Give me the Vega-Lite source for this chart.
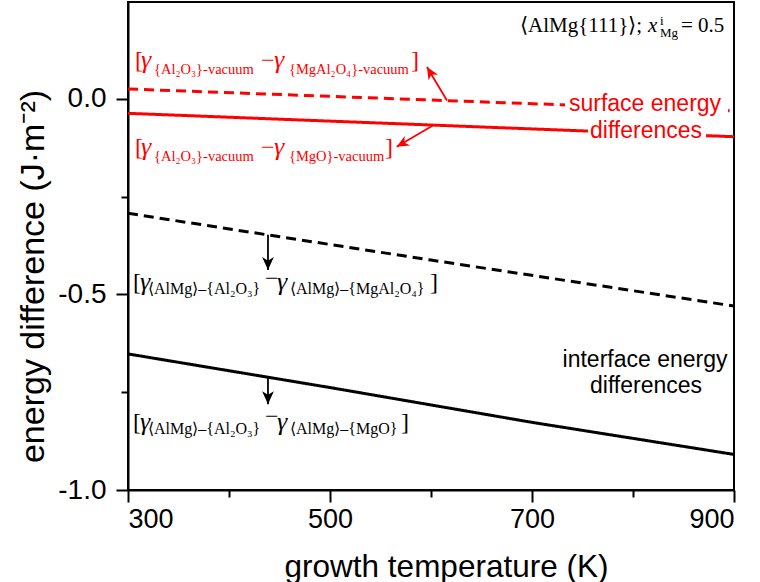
{
  "$schema": "https://vega.github.io/schema/vega-lite/v6.json",
  "width": 606,
  "height": 488,
  "autosize": {"type": "none"},
  "padding": {"left": 128, "top": 2, "right": 26, "bottom": 92},
  "background": "white",
  "config": {"view": {"stroke": "black", "strokeWidth": 2}},
  "encoding": {
    "x": {"field": "T", "type": "quantitative", "title": "growth temperature (K)",
      "scale": {"domain": [300, 900], "nice": false, "zero": false},
      "axis": {"values": [300, 400, 500, 600, 700, 800, 900], "labelExpr": "datum.value % 200 === 100 ? datum.label : ''",
        "grid": false, "domainColor": "black", "domainWidth": 2, "tickColor": "black", "tickWidth": 2,
        "tickSize": {"condition": {"test": "datum.value % 200 === 100", "value": 12}, "value": 7},
        "labelFont": "Liberation Sans", "labelFontSize": 27, "labelColor": "black", "labelPadding": 4,
        "titleFont": "Liberation Sans", "titleFontSize": 31.5, "titleFontWeight": "normal", "titleColor": "black",
        "titleX": 318, "titleY": 86, "titleAlign": "center", "titleBaseline": "alphabetic", "titleAnchor": null}},
    "y": {"field": "v", "type": "quantitative", "title": "energy difference (J·m⁻²)",
      "scale": {"domain": [-1, 0.248], "nice": false, "zero": false},
      "axis": {"values": [-1, -0.75, -0.5, -0.25, 0], "labelExpr": "datum.value * 2 === round(datum.value * 2) ? replace(format(datum.value, '.1f'), '−', '-') : ''",
        "grid": false, "domainColor": "black", "domainWidth": 2, "tickColor": "black", "tickWidth": 2,
        "tickSize": {"condition": {"test": "datum.value * 2 === round(datum.value * 2)", "value": 12}, "value": 7},
        "labelFont": "Liberation Sans", "labelFontSize": 28, "labelColor": "black", "labelPadding": 10,
        "titleFont": "Liberation Sans", "titleFontSize": 34, "titleFontWeight": "normal", "titleColor": "black",
        "titleX": -85, "titleY": 274, "titleAlign": "center", "titleBaseline": "alphabetic", "titleAngle": -90, "titleAnchor": null}},
    "color": {"field": "grp", "type": "nominal", "scale": {"domain": ["surface", "interface"], "range": ["#ff0000", "#000000"]}, "legend": null}
  },
  "layer": [
    {
      "data": {"values": [
        {"series": "surf_spinel", "grp": "surface", "dash": "dashed", "T": 300, "v": 0.0255},
        {"series": "surf_spinel", "grp": "surface", "dash": "dashed", "T": 600, "v": -0.0027},
        {"series": "surf_spinel", "grp": "surface", "dash": "dashed", "T": 900, "v": -0.0308},
        {"series": "surf_MgO", "grp": "surface", "dash": "solid", "T": 300, "v": -0.0367},
        {"series": "surf_MgO", "grp": "surface", "dash": "solid", "T": 600, "v": -0.0666},
        {"series": "surf_MgO", "grp": "surface", "dash": "solid", "T": 900, "v": -0.0965},
        {"series": "int_spinel", "grp": "interface", "dash": "dashed", "T": 300, "v": -0.2924},
        {"series": "int_spinel", "grp": "interface", "dash": "dashed", "T": 600, "v": -0.412},
        {"series": "int_spinel", "grp": "interface", "dash": "dashed", "T": 900, "v": -0.5295},
        {"series": "int_MgO", "grp": "interface", "dash": "solid", "T": 300, "v": -0.652},
        {"series": "int_MgO", "grp": "interface", "dash": "solid", "T": 500, "v": -0.738},
        {"series": "int_MgO", "grp": "interface", "dash": "solid", "T": 700, "v": -0.827},
        {"series": "int_MgO", "grp": "interface", "dash": "solid", "T": 900, "v": -0.909}
      ]},
      "mark": {"type": "line", "strokeWidth": 3, "clip": true},
      "encoding": {
        "detail": {"field": "series"},
        "strokeDash": {"field": "dash", "type": "nominal", "scale": {"domain": ["solid", "dashed"], "range": [[1, 0], [10, 6]]}, "legend": null}
      }
    },
    {
      "data": {"values": [
        {"T": 732.7, "T2": 894.1, "v": 0.0178, "v2": -0.0487},
        {"T": 755.4, "T2": 872.3, "v": -0.0512, "v2": -0.1126}
      ]},
      "mark": {"type": "rect", "color": "white"},
      "encoding": {"x2": {"field": "T2"}, "y2": {"field": "v2"}, "color": {"value": "white"}}
    },
    {
      "data": {"values": [
        {"id": "a1", "grp": "surface", "T": 615.8, "v": -0.004, "T2": 596.0, "v2": 0.0818},
        {"id": "a2", "grp": "surface", "T": 602.3, "v": -0.067, "T2": 566.0, "v2": -0.122},
        {"id": "a3", "grp": "interface", "T": 438.6, "v": -0.347, "T2": 438.6, "v2": -0.4374},
        {"id": "a4", "grp": "interface", "T": 438.6, "v": -0.712, "T2": 438.6, "v2": -0.7806}
      ]},
      "mark": {"type": "rule", "strokeWidth": 1.8},
      "encoding": {"x2": {"field": "T2"}, "y2": {"field": "v2"}}
    },
    {
      "data": {"values": [
        {"id": "a1", "grp": "surface", "T": 596.0, "v": 0.0818}
      ]},
      "mark": {"type": "point", "shape": "M0,0L-0.45,-1L0,-0.72L0.45,-1Z", "size": 600, "filled": true, "opacity": 1, "angle": 149}
    },
    {
      "data": {"values": [
        {"id": "a2", "grp": "surface", "T": 566.0, "v": -0.122}
      ]},
      "mark": {"type": "point", "shape": "M0,0L-0.45,-1L0,-0.72L0.45,-1Z", "size": 600, "filled": true, "opacity": 1, "angle": 61}
    },
    {
      "data": {"values": [
        {"id": "a3", "grp": "interface", "T": 438.6, "v": -0.4374},
        {"id": "a4", "grp": "interface", "T": 438.6, "v": -0.7806}
      ]},
      "mark": {"type": "point", "shape": "M0,0L-0.45,-1L0,-0.72L0.45,-1Z", "size": 676, "filled": true, "opacity": 1, "angle": 0}
    },
    {
      "data": {"values": [
        {"grp": "surface", "t": "[", "T": 306.9, "v": 0.0792},
        {"grp": "surface", "t": "−", "T": 431.7, "v": 0.0792},
        {"grp": "surface", "t": "]", "T": 580.2, "v": 0.0792},
        {"grp": "surface", "t": "[", "T": 306.9, "v": -0.1433},
        {"grp": "surface", "t": "−", "T": 431.7, "v": -0.1433},
        {"grp": "surface", "t": "]", "T": 554.5, "v": -0.1433},
        {"grp": "interface", "t": "[", "T": 305.0, "v": -0.4886},
        {"grp": "interface", "t": "−", "T": 435.6, "v": -0.4783},
        {"grp": "interface", "t": "]", "T": 599.0, "v": -0.4886},
        {"grp": "interface", "t": "[", "T": 305.0, "v": -0.8466},
        {"grp": "interface", "t": "−", "T": 435.6, "v": -0.8313},
        {"grp": "interface", "t": "]", "T": 570.3, "v": -0.8466}
      ]},
      "mark": {"type": "text", "font": "Liberation Serif", "fontSize": 24, "align": "left", "baseline": "alphabetic"},
      "encoding": {"text": {"field": "t"}}
    },
    {
      "data": {"values": [
        {"grp": "surface", "t": "γ", "T": 312.9, "v": 0.0792},
        {"grp": "surface", "t": "γ", "T": 444.6, "v": 0.0792},
        {"grp": "surface", "t": "γ", "T": 312.9, "v": -0.1433},
        {"grp": "surface", "t": "γ", "T": 444.6, "v": -0.1433},
        {"grp": "interface", "t": "γ", "T": 311.9, "v": -0.4886},
        {"grp": "interface", "t": "γ", "T": 447.5, "v": -0.4886},
        {"grp": "interface", "t": "γ", "T": 311.9, "v": -0.8466},
        {"grp": "interface", "t": "γ", "T": 447.5, "v": -0.8466}
      ]},
      "mark": {"type": "text", "font": "Liberation Serif", "fontSize": 26, "fontStyle": "italic", "align": "left", "baseline": "alphabetic"},
      "encoding": {"text": {"field": "t"}}
    },
    {
      "data": {"values": [
        {"grp": "surface", "t": "{Al₂O₃}-vacuum", "T": 325.8, "v": 0.0651},
        {"grp": "surface", "t": "{MgAl₂O₄}-vacuum", "T": 459.4, "v": 0.0651},
        {"grp": "surface", "t": "{Al₂O₃}-vacuum", "T": 325.8, "v": -0.1574},
        {"grp": "surface", "t": "{MgO}-vacuum", "T": 459.4, "v": -0.1574}
      ]},
      "mark": {"type": "text", "font": "Liberation Serif", "fontSize": 14.5, "align": "left", "baseline": "alphabetic"},
      "encoding": {"text": {"field": "t"}}
    },
    {
      "data": {"values": [
        {"grp": "interface", "t": "⟨AlMg⟩–{Al₂O₃}", "T": 319.8, "v": -0.4988},
        {"grp": "interface", "t": "⟨AlMg⟩–{MgAl₂O₄}", "T": 460.4, "v": -0.4988},
        {"grp": "interface", "t": "⟨AlMg⟩–{Al₂O₃}", "T": 319.8, "v": -0.8569},
        {"grp": "interface", "t": "⟨AlMg⟩–{MgO}", "T": 460.4, "v": -0.8569}
      ]},
      "mark": {"type": "text", "font": "Liberation Serif", "fontSize": 16, "align": "left", "baseline": "alphabetic"},
      "encoding": {"text": {"field": "t"}}
    },
    {
      "data": {"values": [
        {"grp": "interface", "t": "i", "T": 826.7, "v": 0.1892},
        {"grp": "interface", "t": "Mg", "T": 826.7, "v": 0.1585}
      ]},
      "mark": {"type": "text", "font": "Liberation Serif", "fontSize": 13, "align": "left", "baseline": "alphabetic"},
      "encoding": {"text": {"field": "t"}}
    },
    {
      "data": {"values": [
        {"grp": "interface", "t": "⟨AlMg{111}⟩;", "T": 688.1, "v": 0.1713},
        {"grp": "interface", "t": "= 0.5", "T": 847.5, "v": 0.1713}
      ]},
      "mark": {"type": "text", "font": "Liberation Serif", "fontSize": 21, "align": "left", "baseline": "alphabetic"},
      "encoding": {"text": {"field": "t"}}
    },
    {
      "data": {"values": [
        {"grp": "interface", "t": "x", "T": 814.9, "v": 0.1713}
      ]},
      "mark": {"type": "text", "font": "Liberation Serif", "fontSize": 21, "fontStyle": "italic", "align": "left", "baseline": "alphabetic"},
      "encoding": {"text": {"field": "t"}}
    },
    {
      "data": {"values": [
        {"grp": "surface", "t": "surface energy", "T": 811.9, "v": -0.0308},
        {"grp": "surface", "t": "differences", "T": 812.9, "v": -0.0998},
        {"grp": "interface", "t": "interface energy", "T": 811.9, "v": -0.6855},
        {"grp": "interface", "t": "differences", "T": 812.9, "v": -0.752}
      ]},
      "mark": {"type": "text", "font": "Liberation Sans", "fontSize": 23, "align": "center", "baseline": "alphabetic"},
      "encoding": {"text": {"field": "t"}}
    }
  ]
}
